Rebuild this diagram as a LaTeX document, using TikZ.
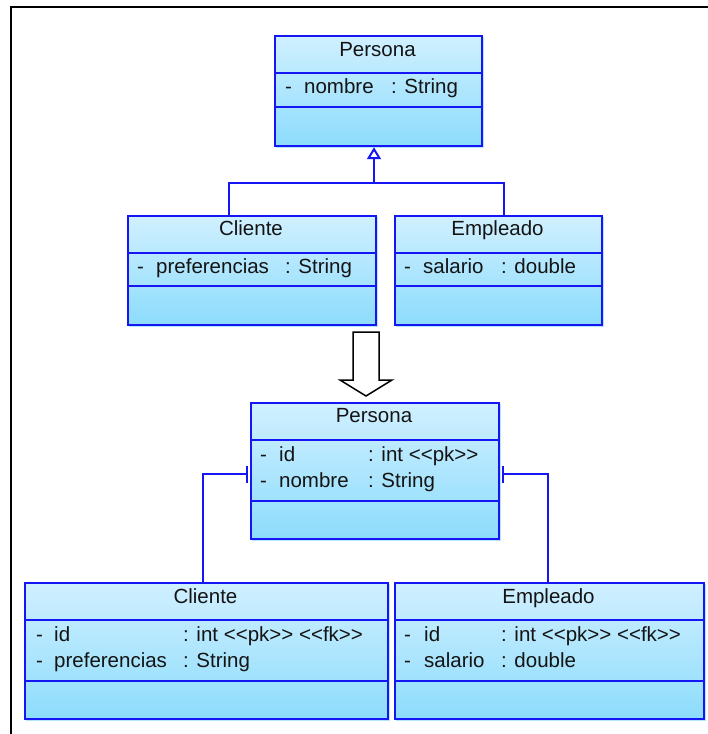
\documentclass[tikz,border=0pt]{standalone}
\usepackage{fontspec}
\newfontfamily\umlfont{Liberation Sans}
\usetikzlibrary{arrows.meta,calc}

\definecolor{umlline}{RGB}{22,22,245}
\definecolor{umltop}{RGB}{208,240,255}
\definecolor{umlbot}{RGB}{140,220,252}
\definecolor{umlglow}{RGB}{178,230,252}
\definecolor{umltext}{RGB}{20,20,20}

\tikzset{
  classbox/.style={draw=umlline, line width=2.2pt, top color=umltop, bottom color=umlbot,
    inner sep=0pt, anchor=north west},
  divider/.style={draw=umlline, line width=2pt},
  classtitle/.style={anchor=base, inner sep=0pt, text=umltext, font=\umlfont\fontsize{20.5}{24}\selectfont},
  attr/.style={anchor=base west, inner sep=0pt, text=umltext, font=\umlfont\fontsize{20.5}{24}\selectfont},
  link/.style={draw=umlline, line width=2pt},
  frameline/.style={draw=black, line width=2pt},
  blockarrow/.style={draw=black, line width=1.5pt, fill=white, line join=miter},
}

% class box: #1 name, #2 left, #3 top, #4 right, #5 bottom,
% #6 first divider, #7 second divider, #8 title baseline, #9 title
\newcommand\umlclass[9]{%
  \fill[umlglow] (#2+1.5,#3+1.5) rectangle (#4+3,#5+3);
  \node[classbox, minimum width=#4pt-#2pt, minimum height=#5pt-#3pt] (#1) at (#2,#3) {};
  \draw[divider] (#2,#6) -- (#4+1,#6);
  \draw[divider] (#2,#7) -- (#4+1,#7);
  \node[classtitle] (#1-title) at ({(#2+#4)/2},#8) {#9};
}

% attribute row: #1 name prefix, #2 baseline, #3 x of dash, #4 x of attribute,
% #5 attribute, #6 x of type, #7 type
\newcommand\umlrow[7]{%
  \node[attr] (#1-vis) at (#3,#2) {-};
  \node[attr] (#1-name) at (#4,#2) {#5};
  \node[attr] (#1-type) at (#6,#2) {#7};
}

% stereotype brackets kept as two separate characters
\newcommand\pk{<{}<pk>{}>}
\newcommand\fk{<{}<fk>{}>}

\begin{document}
\begin{tikzpicture}[x=1pt, y=-1pt]
  \useasboundingbox (0,0) rectangle (708,734);

  % page frame
  \draw[frameline] (11,734) -- (11,7) -- (708,7);

  % ---------- object model ----------
  \umlclass{p1}{274}{35}{481}{145}{73}{107}{56}{Persona}
  \umlrow{p1a}{93}{285}{304}{nombre}{391}{: String}

  \umlclass{c1}{127}{215}{375}{324}{253}{286}{235}{Cliente}
  \umlrow{c1a}{273}{137}{156}{preferencias}{285}{: String}

  \umlclass{e1}{394}{215}{601}{324}{253}{286}{235}{Empleado}
  \umlrow{e1a}{273}{404}{423}{salario}{501}{: double}

  % generalisation
  \coordinate (j) at (374,183);
  \coordinate (xc1) at (229,0);
  \coordinate (xe1) at (504,0);
  \draw[link] (c1.north -| xc1) |- (j) -| (e1.north -| xe1);
  \draw[link, -{Triangle[open, width=14pt, length=12pt, line width=2pt]}] (j) -- (p1.south -| j);

  % transformation arrow
  \draw[blockarrow] (353,332) -- (379,332) -- (379,380) -- (392,380) -- (366,396)
    -- (340,380) -- (353,380) -- cycle;

  % ---------- relational model ----------
  \umlclass{p2}{250}{402}{498}{538}{440}{501}{422}{Persona}
  \umlrow{p2a}{461}{260}{279}{id}{368}{: int \pk}
  \umlrow{p2b}{487}{260}{279}{nombre}{368}{: String}

  \umlclass{c2}{24}{582}{387}{718}{620}{681}{603}{Cliente}
  \umlrow{c2a}{641}{36}{54}{id}{183}{: int \pk{} \fk}
  \umlrow{c2b}{667}{36}{54}{preferencias}{183}{: String}

  \umlclass{e2}{394}{582}{703}{718}{620}{681}{603}{Empleado}
  \umlrow{e2a}{641}{404}{424}{id}{501}{: int \pk{} \fk}
  \umlrow{e2b}{667}{404}{424}{salario}{501}{: double}

  % foreign-key links
  \coordinate (yk) at (0,474);
  \coordinate (xc2) at (203,0);
  \coordinate (xe2) at (548,0);
  \draw[link, -{Bar[width=17pt, line width=2pt]}, shorten >=2pt] (c2.north -| xc2) |- (p2.west |- yk);
  \draw[link, -{Bar[width=17pt, line width=2pt]}, shorten >=2pt] (e2.north -| xe2) |- (p2.east |- yk);
\end{tikzpicture}
\end{document}
